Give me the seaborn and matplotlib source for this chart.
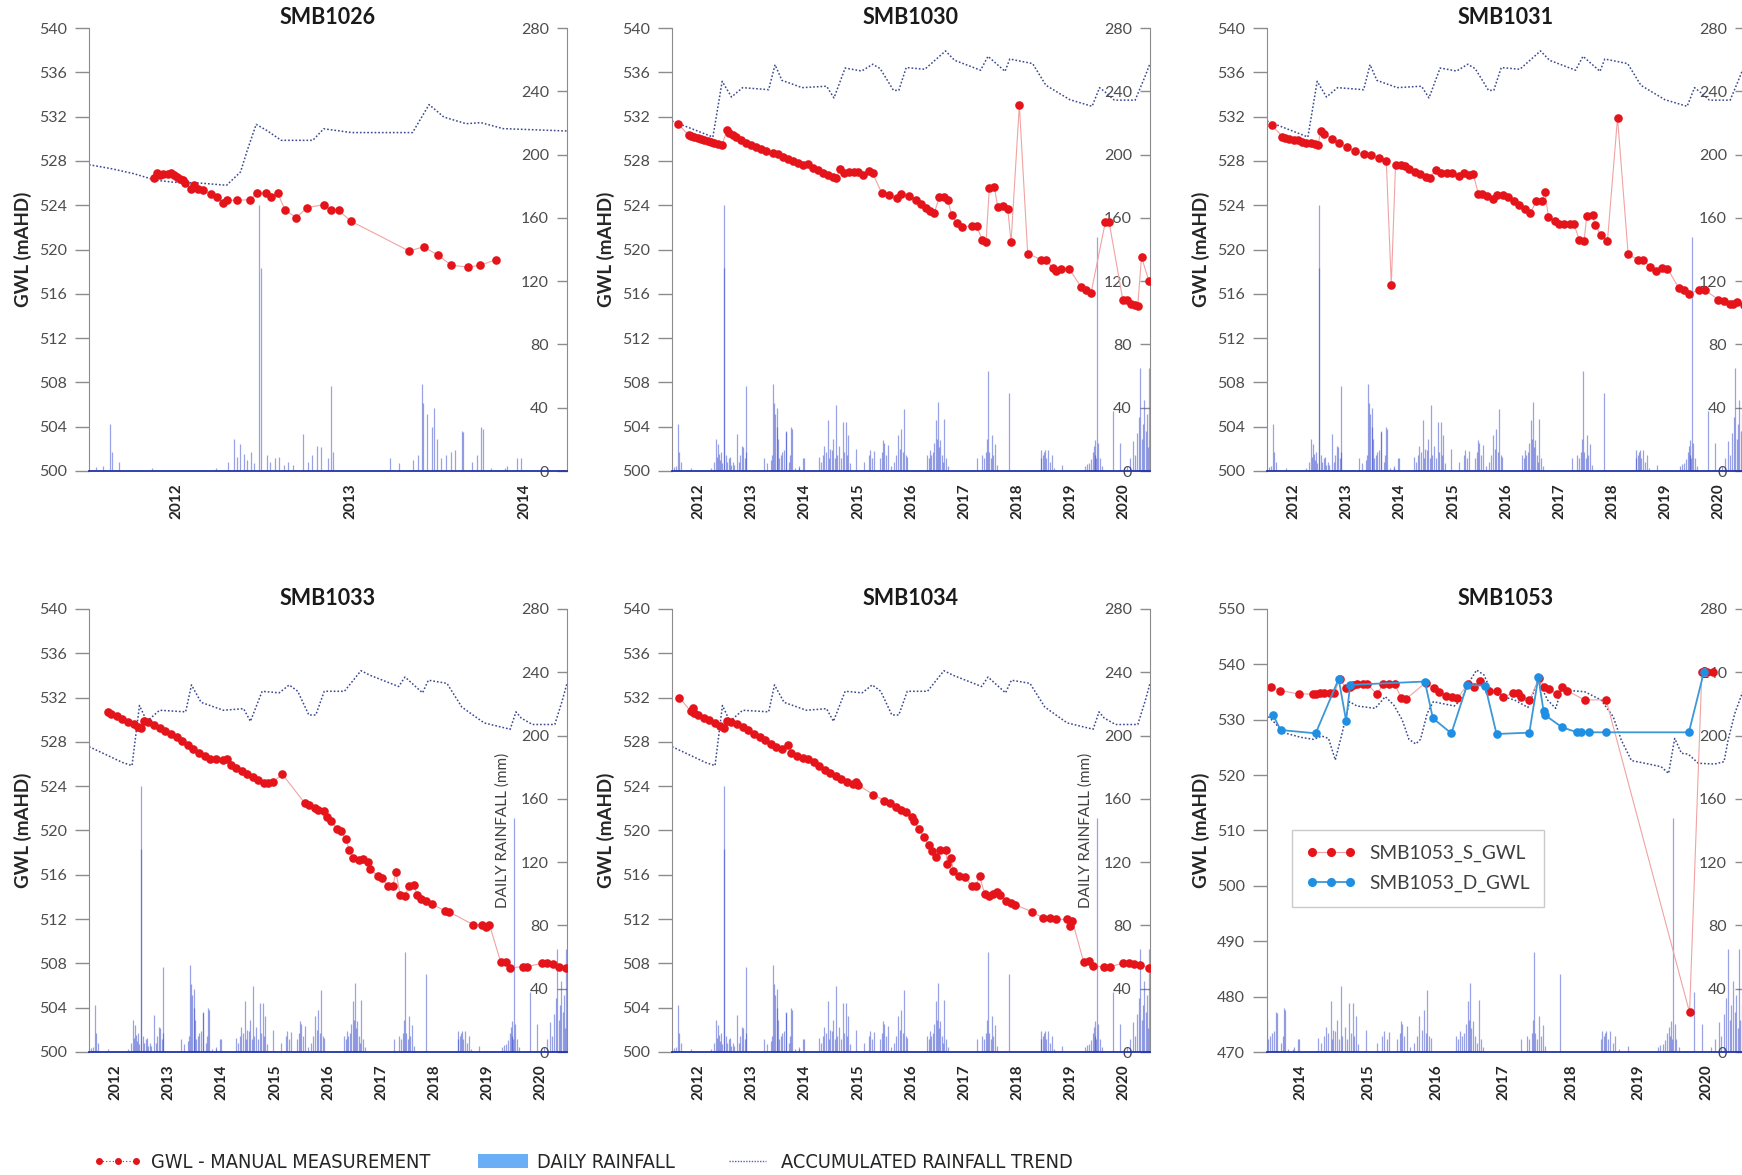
import numpy as np
import pandas as pd
import seaborn as sns
import matplotlib.pyplot as plt
from matplotlib import font_manager
from matplotlib.lines import Line2D
from matplotlib.patches import Patch

# ---------------------------------------------------------------------------
#   Data (times are decimal years)

# daily rainfall spikes (mm) - same station for every bore
rain_t = [2012.04, 2012.08, 2012.12, 2012.13, 2012.17, 2012.36, 2012.73, 2012.80, 2012.83, 2012.85,
          2012.87, 2012.89, 2012.91, 2012.93, 2012.95, 2012.975, 2012.985,
          2013.02, 2013.04, 2013.07, 2013.09, 2013.12, 2013.14, 2013.17, 2013.23, 2013.26, 2013.28,
          2013.31, 2013.33, 2013.37, 2013.39, 2013.40, 2013.73, 2013.78, 2013.86, 2013.89, 2013.91,
          2013.92, 2013.94, 2013.97, 2013.98,
          2014.00, 2014.02, 2014.05, 2014.08, 2014.10, 2014.14, 2014.15, 2014.20, 2014.23, 2014.25,
          2014.26, 2014.31, 2014.39, 2014.40, 2014.46, 2014.48, 2014.76, 2014.80, 2014.84, 2014.87,
          2014.90, 2014.94, 2014.96, 2014.98,
          2015.01, 2015.04, 2015.06, 2015.09, 2015.11, 2015.15, 2015.18, 2015.22, 2015.24, 2015.27,
          2015.29, 2015.31, 2015.35, 2015.46, 2015.62, 2015.70, 2015.73, 2015.77, 2015.80, 2015.92,
          2015.96, 2015.98,
          2016.00, 2016.03, 2016.07, 2016.12, 2016.18, 2016.22, 2016.25, 2016.29, 2016.32, 2016.35,
          2016.37, 2016.40, 2016.42, 2016.80, 2016.83, 2016.85, 2016.88, 2016.91, 2016.94, 2016.97,
          2016.99, 2017.00,
          2017.02, 2017.05, 2017.08, 2017.11, 2017.13, 2017.16, 2017.19, 2017.75, 2017.84, 2017.88,
          2017.92, 2017.94, 2017.95, 2017.97, 2018.00,
          2018.03, 2018.05, 2018.08, 2018.11, 2018.34, 2018.94, 2018.95, 2018.98, 2019.00, 2019.02,
          2019.05, 2019.08, 2019.12, 2019.15, 2019.20, 2019.34,
          2019.78, 2019.81, 2019.86, 2019.88, 2019.92, 2019.94, 2019.96, 2019.97, 2019.99, 2020.01,
          2020.03, 2020.05, 2020.10,
          2020.31, 2020.44, 2020.56, 2020.62, 2020.68, 2020.72, 2020.76, 2020.79, 2020.82, 2020.85,
          2020.87, 2020.89, 2020.92, 2020.94, 2020.96, 2020.98, 2021.00, 2021.03]
rain_mm = [2.5, 3, 29.5, 12, 6, 2, 2, 6, 20.4, 9,
           17, 11, 7, 12, 5, 168, 128,
           10, 6, 8, 9, 4, 6, 4, 23.6, 6, 10,
           16, 15, 8, 54, 12, 8, 5, 7, 10, 55,
           43, 36, 28, 40,
           20, 8, 10, 12, 13, 25, 24.6, 6, 10, 28,
           26.8, 2, 2, 3, 8, 8.4, 8.8, 6, 10, 16,
           12, 32.4, 8, 14,
           13, 20, 8, 42, 10, 16, 8, 31, 12, 31,
           10, 22.5, 5, 14, 6, 10, 13, 8, 12.6, 8,
           12, 19.8,
           17.7, 10, 16.6, 3, 5.7, 10, 23, 14, 26.8, 12,
           39.4, 10, 8.8, 10, 8, 13, 10, 12, 18, 32,
           20, 43.6,
           15, 19.4, 10, 6, 33, 8, 3, 8, 10, 8,
           12, 20, 63, 12, 8,
           22.5, 10, 17, 4, 49.3, 8, 13.5, 10, 12, 13,
           8, 13, 6, 10, 2, 3.6,
           3, 4.6, 5, 7.8, 12, 16, 10, 19.4, 8, 148,
           18, 8, 3,
           38, 18, 3, 8, 19, 10, 24, 34, 65, 20,
           30, 45, 25, 36, 15, 65, 20, 30]

# accumulated rainfall trend (mm, right axis)
trend_1026_t = [2012.0, 2012.127, 2012.255, 2012.382, 2012.488, 2012.637, 2012.79, 2012.87, 2012.909,
                2012.96, 2013.02, 2013.104, 2013.285, 2013.348, 2013.507, 2013.858, 2013.953, 2014.038,
                2014.166, 2014.25, 2014.378, 2014.745]
trend_1026_mm = [193.6, 191.1, 188.0, 183.8, 182.5, 182.0, 180.6, 189.0, 202.7, 219.1, 215.3, 209.0,
                 209.0, 216.3, 213.9, 213.9, 231.6, 223.7, 219.5, 220.2, 216.4, 214.9]

trend_a_t = [2012.0, 2012.77, 2012.945, 2013.12, 2013.33, 2013.82, 2013.94, 2014.07, 2014.45, 2014.91,
             2015.05, 2015.26, 2015.57, 2015.78, 2015.92, 2016.17, 2016.27, 2016.41, 2016.76, 2017.15,
             2017.32, 2017.81, 2017.95, 2018.27, 2018.36, 2018.79, 2019.04, 2019.49, 2019.91, 2020.05,
             2020.19, 2020.33, 2020.72, 2020.89, 2021.0]
trend_a_mm = [221.2, 211.1, 246.3, 236.4, 242.3, 241.0, 256.8, 246.9, 242.3, 243.2,
              235.8, 254.7, 252.8, 257.1, 254.3, 240.6, 240.6, 255.0, 253.9, 265.5,
              259.6, 253.3, 262.1, 252.6, 260.4, 257.5, 243.8, 234.7, 230.5, 242.3,
              238.6, 234.4, 234.4, 248.0, 257.5]

trend_b_t = [2012.0, 2012.63, 2012.81, 2012.95, 2013.09, 2013.33, 2013.82, 2013.93, 2014.11, 2014.53,
             2014.91, 2015.04, 2015.26, 2015.58, 2015.77, 2015.93, 2016.14, 2016.27, 2016.43, 2016.81,
             2017.12, 2017.30, 2017.83, 2017.95, 2018.28, 2018.39, 2018.74, 2019.02, 2019.44, 2019.93,
             2020.04, 2020.14, 2020.35, 2020.77, 2020.91, 2021.0]
trend_b_mm = [193, 183, 181, 219, 209, 216, 215, 232, 221, 216,
              217, 209, 228, 227, 232, 228, 213, 213, 228, 228,
              241, 238, 231, 237, 227, 235, 233, 218, 208, 204,
              215, 211, 207, 207, 222, 233]

trend_1053_t = [2014.02, 2014.12, 2014.25, 2014.50, 2014.69, 2014.81, 2014.91, 2015.01, 2015.11, 2015.22,
                2015.33, 2015.60, 2015.75, 2015.875, 2016.00, 2016.10, 2016.20, 2016.27, 2016.37, 2016.46,
                2016.77, 2016.87, 2017.01, 2017.10, 2017.21, 2017.31, 2017.41, 2017.66, 2017.86, 2018.01,
                2018.15, 2018.27, 2018.37, 2018.50, 2018.70, 2018.94, 2019.12, 2019.24, 2019.39, 2019.59,
                2019.83, 2019.94, 2020.03, 2020.13, 2020.23, 2020.38, 2020.62, 2020.76, 2020.82, 2020.92,
                2021.05]
trend_1053_mm = [212.0, 207.8, 201.8, 198.9, 197.6, 199.7, 198.2, 184.6, 201.4, 221.4,
                 218.7, 217.2, 224.6, 219.3, 209.9, 197.6, 194.7, 197.6, 214.1, 221.4,
                 218.7, 222.5, 235.1, 241.4, 238.3, 228.4, 225.6, 222.5, 217.8, 235.1,
                 222.5, 217.2, 231.4, 228.4, 227.7, 222.5, 212.0, 197.2, 184.2, 182.5,
                 180.3, 176.1, 198.2, 188.8, 188.3, 182.5, 182.0, 183.5, 197.2, 214.1,
                 229.3]

# groundwater levels (mAHD)
smb1026_t = [2012.372, 2012.393, 2012.408, 2012.425, 2012.456, 2012.471, 2012.488, 2012.505, 2012.524,
             2012.541, 2012.552, 2012.584, 2012.605, 2012.626, 2012.654, 2012.701, 2012.737, 2012.771,
             2012.792, 2012.849, 2012.926, 2012.964, 2013.015, 2013.047, 2013.083, 2013.125, 2013.189,
             2013.253, 2013.348, 2013.391, 2013.433, 2013.503, 2013.837, 2013.921, 2014.006, 2014.081,
             2014.176, 2014.244, 2014.340]
smb1026_gwl = [526.46, 526.94, 526.76, 526.85, 526.85, 526.94, 526.76, 526.55, 526.40,
               526.25, 526.00, 525.44, 525.80, 525.46, 525.40, 524.98, 524.74, 524.20,
               524.44, 524.44, 524.50, 525.10, 525.10, 524.74, 525.10, 523.60, 522.88,
               523.78, 524.05, 523.54, 523.54, 522.57, 519.87, 520.23, 519.48, 518.57,
               518.42, 518.57, 519.09]

smb1030_t = [2012.106, 2012.313, 2012.357, 2012.420, 2012.483, 2012.546, 2012.608, 2012.671, 2012.734,
             2012.797, 2012.859, 2012.941,
             2013.035, 2013.079, 2013.142, 2013.205, 2013.299, 2013.393, 2013.487, 2013.581, 2013.676,
             2013.770, 2013.895, 2013.989, 2014.083, 2014.178, 2014.272, 2014.366, 2014.460, 2014.554,
             2014.648, 2014.743, 2014.837, 2014.931, 2015.025, 2015.088,
             2015.170, 2015.245, 2015.339, 2015.433, 2015.496, 2015.603, 2015.703, 2015.778,
             2015.954, 2016.092, 2016.230, 2016.312, 2016.469, 2016.595, 2016.689, 2016.783, 2016.858,
             2016.940,
             2017.034, 2017.115, 2017.197, 2017.266, 2017.367, 2017.461, 2017.643, 2017.737, 2017.837,
             2017.913,
             2017.975, 2018.070, 2018.132, 2018.226, 2018.321, 2018.384, 2018.540,
             2018.697, 2018.949, 2019.043, 2019.168, 2019.231, 2019.325, 2019.482, 2019.702, 2019.796,
             2019.890,
             2020.160, 2020.230, 2020.490, 2020.560, 2020.650, 2020.720, 2020.770, 2020.840, 2020.980]
smb1030_gwl = [531.36, 530.34, 530.25, 530.16, 530.07, 529.95, 529.86, 529.76, 529.70, 529.61, 529.55, 529.46,
               530.76, 530.55, 530.34, 530.16, 529.89, 529.64, 529.43, 529.22, 529.04, 528.89, 528.68,
               528.59, 528.38, 528.20, 527.99, 527.80, 527.59, 527.71, 527.35, 527.14, 526.90, 526.69,
               526.51, 526.48,
               527.23, 526.93, 527.02, 527.02, 527.02, 526.75, 527.08, 526.87,
               525.06, 524.88, 524.64, 524.97, 524.82, 524.46, 524.12, 523.73, 523.49, 523.31,
               524.76, 524.76, 524.43, 523.07, 522.40, 522.01, 522.16, 522.10, 520.90, 520.72,
               525.57, 525.63, 523.85, 523.97, 523.67, 520.66, 533.05,
               519.63, 519.09, 519.09, 518.30, 518.09, 518.24, 518.24, 516.61, 516.37, 516.07,
               522.49, 522.49, 515.41, 515.41, 515.11, 515.02, 514.93, 519.33, 517.13]

smb1031_t = [2012.092, 2012.290, 2012.340, 2012.420, 2012.500, 2012.580, 2012.660, 2012.740, 2012.820,
             2012.900, 2012.960,
             2013.010, 2013.080, 2013.220, 2013.360, 2013.500, 2013.650, 2013.820, 2013.960, 2014.100,
             2014.246, 2014.340,
             2014.420, 2014.530, 2014.600, 2014.670, 2014.780, 2014.880, 2014.990, 2015.060,
             2015.180, 2015.270, 2015.380, 2015.480, 2015.620, 2015.710, 2015.800, 2015.880,
             2015.980, 2016.050, 2016.150, 2016.260, 2016.330, 2016.440, 2016.540, 2016.650, 2016.750,
             2016.860, 2016.960,
             2017.070, 2017.180, 2017.230,
             2017.300, 2017.420, 2017.490, 2017.600, 2017.710, 2017.780,
             2017.880, 2017.970, 2018.020, 2018.130, 2018.180, 2018.290, 2018.410, 2018.600,
             2018.800, 2018.980, 2019.080, 2019.220, 2019.330, 2019.440, 2019.540,
             2019.750, 2019.860, 2019.940, 2020.140, 2020.250,
             2020.500, 2020.600, 2020.710, 2020.780, 2020.850, 2020.990]
smb1031_gwl = [531.20, 530.20, 530.10, 530.00, 529.92, 529.85, 529.75, 529.66, 529.58, 529.50, 529.40,
               530.67, 530.46, 530.00, 529.60, 529.26, 528.90, 528.60, 528.50, 528.30, 528.00,
               516.83,
               527.60, 527.60, 527.54, 527.30, 527.00, 526.80, 526.55, 526.46,
               527.20, 526.90, 526.90, 526.90, 526.60, 526.90, 526.70, 526.85,
               525.04, 525.04, 524.80, 524.53, 524.90, 524.90, 524.74, 524.35, 524.05, 523.69, 523.33,
               524.35, 524.35, 525.20,
               522.94, 522.58, 522.27, 522.27, 522.27, 522.27,
               520.89, 520.77, 523.00, 523.09, 522.19, 521.28, 520.77, 531.90,
               519.57, 519.09, 519.03, 518.42, 518.06, 518.36, 518.27,
               516.56, 516.32, 516.02, 516.32, 516.32,
               515.47, 515.35, 515.11, 515.05, 515.26, 514.96]

smb1033_t = [2012.350, 2012.420, 2012.530, 2012.630, 2012.740, 2012.840, 2012.930, 2012.980,
             2013.040, 2013.120, 2013.230, 2013.330, 2013.440, 2013.540, 2013.650, 2013.750, 2013.860,
             2013.960, 2014.070, 2014.180, 2014.280, 2014.390, 2014.530, 2014.600, 2014.670, 2014.770,
             2014.880, 2014.980, 2015.090, 2015.190, 2015.300, 2015.370, 2015.470,
             2015.640,
             2016.070, 2016.140, 2016.250, 2016.320, 2016.420, 2016.490, 2016.560, 2016.670, 2016.740,
             2016.830, 2016.900, 2016.980, 2017.090, 2017.160, 2017.250, 2017.300, 2017.440, 2017.510,
             2017.630, 2017.720, 2017.780, 2017.860, 2017.950, 2018.020, 2018.120, 2018.180, 2018.250,
             2018.350, 2018.460, 2018.700, 2018.770,
             2019.230, 2019.400, 2019.470, 2019.540,
             2019.750, 2019.860, 2019.930, 2020.180, 2020.250, 2020.530, 2020.630, 2020.740, 2020.840,
             2020.980]
smb1033_gwl = [530.68, 530.50, 530.30, 530.10, 529.84, 529.60, 529.37, 529.28,
               529.90, 529.77, 529.53, 529.28, 529.00, 528.75, 528.44, 528.10, 527.72, 527.35,
               527.04, 526.73, 526.48, 526.42, 526.36, 526.42, 525.95, 525.64, 525.39, 525.11,
               524.80, 524.55, 524.30, 524.30, 524.40,
               525.08,
               522.44, 522.32, 522.07, 521.82, 521.76, 521.20, 520.89, 520.14, 519.95, 519.27,
               518.27, 517.56, 517.34, 517.47, 517.16, 516.53, 515.85, 515.70, 514.98, 514.98,
               516.22, 514.14, 514.05, 514.98, 515.07, 514.14, 513.83, 513.61, 513.36, 512.74, 512.68,
               511.50, 511.50, 511.25, 511.50,
               508.14, 508.14, 507.61, 507.70, 507.70, 508.02, 508.02, 507.93, 507.70, 507.61]

smb1034_t = [2012.140,
             2012.350, 2012.390, 2012.420, 2012.490, 2012.600, 2012.700, 2012.810, 2012.910, 2012.980,
             2013.040, 2013.120, 2013.230, 2013.330, 2013.440, 2013.540, 2013.650, 2013.750, 2013.860,
             2013.960, 2014.070, 2014.180, 2014.250, 2014.350, 2014.460, 2014.560, 2014.670, 2014.770,
             2014.880, 2014.980, 2015.090, 2015.190, 2015.300, 2015.400, 2015.470, 2015.510,
             2015.790,
             2016.000, 2016.110, 2016.210, 2016.320, 2016.410, 2016.510, 2016.550, 2016.650, 2016.740,
             2016.830, 2016.900, 2016.970, 2017.050, 2017.160, 2017.180, 2017.250, 2017.300, 2017.400,
             2017.510, 2017.650, 2017.720, 2017.790, 2017.890, 2017.960, 2018.040, 2018.110, 2018.180,
             2018.280, 2018.390, 2018.460, 2018.770, 2018.980, 2019.120, 2019.230, 2019.440, 2019.500,
             2019.540,
             2019.750, 2019.860, 2019.930, 2020.140, 2020.250, 2020.490, 2020.600, 2020.700, 2020.810,
             2020.980]
smb1034_gwl = [532.00,
               530.77, 531.08, 530.60, 530.46, 530.20, 530.00, 529.74, 529.46, 529.28,
               529.90, 529.84, 529.60, 529.37, 529.06, 528.75, 528.44, 528.13, 527.82, 527.50,
               527.35, 527.72, 527.04, 526.73, 526.57, 526.42, 526.17, 525.80, 525.49, 525.17,
               524.93, 524.65, 524.40, 524.18, 524.40, 524.09,
               523.25,
               522.69, 522.44, 522.13, 521.82, 521.70, 521.20, 520.89, 520.14, 519.43, 518.71,
               518.18, 517.65, 518.27, 518.27, 516.94, 517.56, 516.32, 515.91, 515.79, 514.98,
               514.98, 515.91, 514.23, 514.05, 514.23, 514.45, 514.14, 513.67, 513.42, 513.30,
               512.68, 512.12, 512.06, 511.97, 511.97, 511.34, 511.81,
               508.14, 508.23, 507.77, 507.70, 507.70, 508.02, 508.02, 507.93, 507.83, 507.61]

smb1053_s_t = [2014.055, 2014.198, 2014.474, 2014.677, 2014.732, 2014.787, 2014.842, 2014.925, 2014.997,
               2015.074, 2015.173, 2015.228, 2015.272, 2015.338, 2015.420, 2015.476, 2015.624, 2015.723,
               2015.806, 2015.889, 2015.988, 2016.054, 2016.346, 2016.467, 2016.539, 2016.648, 2016.742,
               2016.814, 2016.968, 2017.056, 2017.155, 2017.282, 2017.403, 2017.497, 2017.640, 2017.706,
               2017.761, 2017.882, 2018.025, 2018.102, 2018.174, 2018.284, 2018.366, 2018.432, 2018.697,
               2019.016, 2020.250, 2020.432, 2020.514, 2020.597]
smb1053_s_gwl = [535.89, 535.27, 534.65, 534.65, 534.65, 534.77, 534.77, 534.77, 534.77,
                 537.32, 535.77, 536.00, 536.20, 536.50, 536.50, 536.50, 534.65, 536.50,
                 536.50, 536.50, 533.84, 533.72, 536.70, 535.70, 534.96, 534.34, 534.03,
                 533.84, 536.39, 536.00, 537.00, 535.27, 535.15, 534.15, 534.77, 534.77,
                 534.15, 533.53, 537.57, 535.89, 535.58, 534.65, 535.89, 535.27, 533.59,
                 533.59, 477.16, 538.70, 538.70, 538.70]
smb1053_d_t = [2014.090, 2014.200, 2014.720, 2015.060, 2015.170, 2015.230, 2016.335, 2016.454, 2016.727,
               2016.960, 2017.226, 2017.395, 2017.880, 2018.013, 2018.090, 2018.110, 2018.365, 2018.588,
               2018.650, 2018.760, 2019.010, 2020.240, 2020.463]
smb1053_d_gwl = [530.86, 528.15, 527.55, 537.36, 529.83, 536.30, 536.90, 530.26, 527.55,
                 536.30, 536.15, 527.43, 527.67, 537.66, 531.64, 530.86, 528.63, 527.73,
                 527.73, 527.73, 527.73, 527.73, 538.68]

years_1026 = [2012, 2013, 2014]
years_long = [2012, 2013, 2014, 2015, 2016, 2017, 2018, 2019, 2020]
years_1053 = [2014, 2015, 2016, 2017, 2018, 2019, 2020]

# ---------------------------------------------------------------------------
#   Styling

RED = '#e5141b'
RED_LINE = '#f1a3a3'
BLUE = '#1f8fe3'
BLUE_LINE = '#3c98d6'
RAIN_C = '#3446cc'
TREND_C = '#3b4990'
GREY = '#8c8c8c'

sns.set_style('white')
plt.rcParams['font.family'] = ['Lato', 'DejaVu Sans']

installed = {f.name for f in font_manager.fontManager.ttflist}
narrow = 'Liberation Sans Narrow' in installed


def to_dt(years):
    years = np.asarray(years, dtype=float)
    return pd.Timestamp('2012-01-01') + pd.to_timedelta((years - 2012.0) * 365.25, unit='D')


fig = plt.figure(figsize=(17.42, 11.75), dpi=100)
fig.patch.set_facecolor('white')

W, H = 1742.0, 1175.0


def panel(px_left, px_top, title, xlim, years, ylim, ystep, gwl, trend_t, trend_mm, rain_label=False):
    ax = fig.add_axes([px_left / W, 1 - (px_top + 443) / H, 478 / W, 443 / H])
    ax2 = ax.twinx()
    ax.set_zorder(3)
    ax2.set_zorder(2)
    ax.patch.set_visible(False)

    # daily rainfall + accumulated trend on the right axis
    ax2.vlines(to_dt(rain_t), 0, rain_mm, color=RAIN_C, alpha=0.5, lw=0.9)
    sns.lineplot(x=to_dt(trend_t), y=trend_mm, ax=ax2, color=TREND_C, lw=1.1,
                 linestyle=(0, (1.1, 1.3)), estimator=None, sort=False, legend=False)

    # groundwater levels on the left axis
    for t, v, mc, lc, lw in gwl:
        sns.lineplot(x=to_dt(t), y=v, ax=ax, color=lc, lw=lw, marker='o', markersize=6.2,
                     markerfacecolor=mc, markeredgecolor=mc, markeredgewidth=0,
                     estimator=None, sort=False, legend=False)

    jan = to_dt(years + [years[-1] + 1])
    ax.set_xticks(jan, labels=[''] * len(jan))
    ax.set_xticks(to_dt([y + 0.5 for y in years]), labels=[str(y) for y in years], minor=True,
                  rotation=90, fontweight='bold', fontsize=11, color='#262626')
    # limits after the ticks, so the tick list cannot widen the view
    lim = to_dt(xlim)
    ax.set_xlim(lim[0], lim[1])
    ax.tick_params(axis='x', which='major', length=9, width=1, color='#666666', direction='out')
    ax.tick_params(axis='x', which='minor', length=0, pad=9)

    ax.set_ylim(*ylim)
    ax.set_yticks(np.arange(ylim[0], ylim[1] + 1, ystep))
    ax.tick_params(axis='y', length=10, width=1, color=GREY, labelsize=11.5, labelcolor='#4d4d4d', pad=6)
    ax.set_xlabel('')
    ax.set_ylabel('GWL (mAHD)', fontsize=13.5, fontweight='bold', color='#262626', labelpad=5)
    ax.set_title(title, fontsize=15.5, fontweight='bold', color='#1a1a1a', pad=-5)

    for s in ['top', 'right']:
        ax.spines[s].set_visible(False)
    ax.spines['left'].set_color(GREY)
    ax.spines['bottom'].set_color('#2233a6')
    ax.spines['bottom'].set_linewidth(1.3)

    # right axis drawn at the right edge with ticks/labels pointing inwards
    ax2.set_ylim(0, 280)
    ax2.set_yticks(np.arange(0, 281, 40))
    ax2.spines['left'].set_position(('axes', 1.0))
    ax2.yaxis.tick_left()
    ax2.yaxis.set_label_position('left')
    for s in ['top', 'right', 'bottom']:
        ax2.spines[s].set_visible(False)
    ax2.spines['left'].set_color(GREY)
    ax2.tick_params(axis='y', length=7, width=1, color=GREY, labelsize=11.5, labelcolor='#4d4d4d', pad=6)
    ax2.set_xlabel('')
    ax2.set_ylabel('DAILY RAINFALL (mm)' if rain_label else '', fontsize=11, color='#404040', labelpad=8)
    return ax, ax2


single = lambda t, v: [(t, v, RED, RED_LINE, 0.8)]

panel(89, 28, 'SMB1026', (2012.0, 2014.745), years_1026, (500, 540), 4,
      single(smb1026_t, smb1026_gwl), trend_1026_t, trend_1026_mm)
panel(672, 28, 'SMB1030', (2012.0, 2021.0), years_long, (500, 540), 4,
      single(smb1030_t, smb1030_gwl), trend_a_t, trend_a_mm)
panel(1267, 28, 'SMB1031', (2012.0, 2021.0), years_long, (500, 540), 4,
      single(smb1031_t, smb1031_gwl), trend_a_t, trend_a_mm)
panel(89, 609, 'SMB1033', (2012.0, 2021.0), years_long, (500, 540), 4,
      single(smb1033_t, smb1033_gwl), trend_b_t, trend_b_mm, rain_label=True)
panel(672, 609, 'SMB1034', (2012.0, 2021.0), years_long, (500, 540), 4,
      single(smb1034_t, smb1034_gwl), trend_b_t, trend_b_mm, rain_label=True)
ax6, _ = panel(1267, 609, 'SMB1053', (2014.0, 2021.07), years_1053, (470, 550), 10,
               [(smb1053_s_t, smb1053_s_gwl, RED, RED_LINE, 0.8),
                (smb1053_d_t, smb1053_d_gwl, BLUE, BLUE_LINE, 1.3)],
               trend_1053_t, trend_1053_mm)

# legend inside SMB1053
h_s = Line2D([], [], color=RED_LINE, lw=0.8, marker='o', ms=5.5, mfc=RED, mec=RED)
h_d = Line2D([], [], color=BLUE_LINE, lw=1.3, marker='o', ms=5.5, mfc=BLUE, mec=BLUE)
leg6 = ax6.legend([h_s, h_d], ['SMB1053_S_GWL', 'SMB1053_D_GWL'], loc='upper left',
                  bbox_to_anchor=(0.052, 0.501), borderaxespad=0, numpoints=3, handlelength=2.6,
                  fontsize=13.8, frameon=True, fancybox=False, edgecolor='#bdbdbd',
                  borderpad=0.75, labelspacing=0.7, handletextpad=0.7)
leg6.get_frame().set_linewidth(1.0)
for txt in leg6.get_texts():
    txt.set_color('#404040')

# legend along the bottom
h1 = Line2D([], [], color=RED, lw=0.8, linestyle=(0, (1, 2)), marker='o', ms=4, mfc=RED, mec=RED)
h2 = Patch(facecolor='#6aaef5', edgecolor='none')
h3 = Line2D([], [], color='#5563b0', lw=1.0, linestyle=(0, (1, 1)))
if narrow:
    leg_prop = {'family': 'Liberation Sans Narrow', 'size': 15.5}
else:
    leg_prop = {'family': 'DejaVu Sans', 'size': 14.3, 'stretch': 'condensed'}
fig.legend([h1, h2, h3], ['GWL - MANUAL MEASUREMENT', 'DAILY RAINFALL', 'ACCUMULATED RAINFALL TREND'],
           loc='center left', bbox_to_anchor=(0.043, 0.0105), ncol=3, frameon=False, numpoints=3,
           handlelength=2.5, handletextpad=0.45, columnspacing=2.4, prop=leg_prop)

fig.savefig('out.png', dpi=100)
